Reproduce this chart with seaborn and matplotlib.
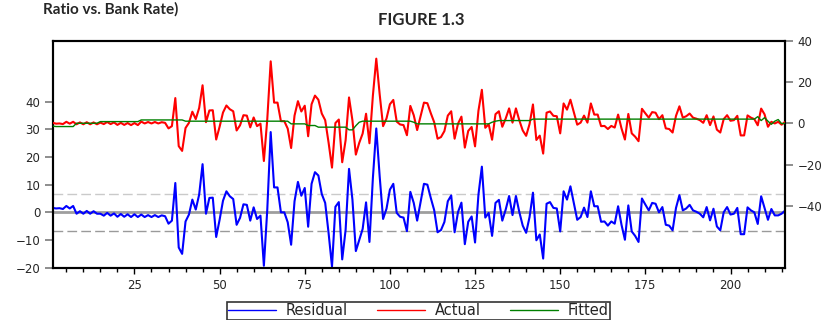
import matplotlib
matplotlib.use("Agg")
import matplotlib.pyplot as plt
from matplotlib.ticker import MultipleLocator, FixedLocator
from matplotlib.lines import Line2D
import numpy as np
import pandas as pd
import seaborn as sns

# ---------------- data ----------------
obs = list(range(1, 217))

residual = [
    1.6, 1.4, 1.5, 1.2, 2.3, 1.4, 2.3,
    -0.5, 0.4, -0.5, 0.5, -0.5, 0.4, -0.5, -0.5, -1.2, -0.2, -1.2, -0.4, -1.6, -0.6,
    -1.6, -0.7, -1.7, -0.7, -1.7, -0.8, -1.7, -1.0, -1.7, -1.0, -1.7, -1.1, -1.4,
    -4.1, -3.0, 10.6, -12.7, -15.0, -3.3, -0.8, 4.6, 1.0, 6.4, 17.4, -0.5, 5.2, 5.3,
    -8.9, -2.7, 4.2, 7.6, 5.8, 4.8, -4.5, -2.0, 2.9, 2.7, -3.0, 1.8, -2.4, -1.2,
    -19.3, 1.0, 29.0, 9.0, 9.0, 0.0, 0.0, -3.6, -11.7, 4.0, 11.0,
    6.0, 8.8, -5.2, 10.3, 14.5, 13.3, 6.6, 3.4, -7.5, -19.6, 2.0, 3.7, -17.0, -6.3,
    15.7, 4.6, -14.0, -10.0, -6.0, 3.6, -10.7, 12.3, 30.3, 13.0, -2.4, 1.3, 8.2,
    10.3, -0.2, -1.6, -1.9, -6.8, 7.4, 3.4, -3.0, 3.7, 10.3, 10.0, 5.2, 0.8, -7.2,
    -6.4, -3.5, 4.0, 6.1, -7.2, 0.1, 3.5, -11.5, -3.4, -1.5, -10.9, 6.4, 16.5, -1.9,
    -0.2, -8.5, 3.4, 4.5, -3.0, 1.0, 5.9, -1.0, 5.9, 0.1, -4.8, -7.4, -1.7, 7.1,
    -10.1, -8.0, -16.7,
    3.1, 3.7, 1.6, 1.4, -6.9, 7.6, 4.6, 9.4, 3.4, -2.7, -1.7, 1.7, -1.7, 7.6, 2.2,
    2.2, -3.4, -3.3, -4.8, -3.3, -4.1, 2.2, -4.5, -9.9, 2.5, -6.9, -8.5, -10.7, 5.0,
    2.8, 0.7, 3.4, 3.1, 0.0, 1.9, -4.5, -4.8, -6.5, 1.6, 6.2, 0.7, 1.4, 2.7, 0.7,
    0.2, -0.5, -1.8, 1.9, -2.9, 1.3, -5.1, -6.5, 0.0, 1.9, -0.8, -0.5, 1.6, -7.9,
    -7.9, 1.8, 0.7, 0.0, -4.2, 5.8, 1.6, -2.7, 1.2, -1.1, -1.1, -0.5, 0.6,
]

fitted = [
    -1.4, -1.6, -1.6, -1.6, -1.6, -1.6, -1.6,
    0.0, 0.0, 0.0, 0.0, 0.0, 0.0, 0.0,
    0.8, 0.8, 0.8, 0.8, 0.8, 0.8, 0.8, 0.8, 0.8, 0.8, 0.8, 0.8,
    1.6, 1.6, 1.6, 1.6, 1.6, 1.6, 1.6, 1.6, 1.6, 1.6, 1.6, 1.6, 1.6,
    1.0, 1.0, 1.0, 1.0, 1.0, 1.0, 1.0, 1.0, 1.0, 1.0, 1.0, 1.0, 1.0, 1.0, 1.0, 1.0,
    1.0, 1.0, 1.0, 1.0, 1.0, 1.0, 1.0, 1.0, 1.0, 1.0, 1.0, 1.0, 1.0, 1.0, 1.0,
    -0.3, -0.3, -0.3, -0.3, -0.3,
    -1.1, -1.1, -1.1,
    -1.9, -1.9, -1.9, -1.9, -1.9, -1.9, -1.9, -1.9, -1.9,
    -3.2, -3.2,
    -1.2, 0.5,
    1.0, 1.0, 1.0, 1.0, 1.0, 1.0, 1.0, 1.0, 1.0, 1.0, 1.0, 1.0, 1.0, 1.0, 1.0,
    0.5,
    -0.3, -0.3, -0.3, -0.3, -0.3, -0.3, -0.3, -0.3, -0.3, -0.3, -0.3,
    -0.3, -0.3, -0.3, -0.3, -0.3, -0.3, -0.3, -0.3, -0.3, -0.3, -0.3,
    0.5, 1.0,
    1.3, 1.3, 1.3, 1.3, 1.3, 1.3, 1.3, 1.3, 1.3, 1.3,
    2.0, 2.0, 2.0, 2.0, 2.0, 2.0, 2.0, 2.0, 2.0, 2.0, 2.0, 2.0, 2.0, 2.0, 2.0, 2.0,
    2.0, 2.0, 2.0, 2.0, 2.0, 2.0, 2.0, 2.0, 2.0, 2.0, 2.0, 2.0, 2.0, 2.0, 2.0, 2.0,
    2.0, 2.0, 2.0, 2.0, 2.0, 2.0, 2.0, 2.0, 2.0, 2.0, 2.0, 2.0, 2.0, 2.0, 2.0, 2.0,
    2.0, 2.0, 2.0, 2.0, 2.0, 2.0, 2.0, 2.0, 2.0, 2.0, 2.0, 2.0, 2.0, 2.0, 2.0, 2.0,
    2.0, 2.0,
    3.2, 1.3, 2.7, 1.0, -0.5, 1.0, 1.8, -0.2, 0.0,
]

# actual = fitted + residual (the chart's definition)
actual = [f + r for f, r in zip(fitted, residual)]

se_band = 6.8
left_ticks = [-20, -10, 0, 10, 20, 30, 40]
right_ticks = [-40, -20, 0, 20, 40]
x_ticks = [25, 50, 75, 100, 125, 150, 175, 200]
series_names = ["Residual", "Actual", "Fitted"]
title_text = "FIGURE 1.3"
header_text = "Ratio vs. Bank Rate)"

n = min(len(obs), len(residual), len(fitted))
df = pd.DataFrame({
    "obs": obs[:n],
    "Residual": residual[:n],
    "Actual": actual[:n],
    "Fitted": fitted[:n],
})

# ---------------- style ----------------
sns.set_style("white")
plt.rcParams["font.family"] = ["DejaVu Sans"]

W, H = 830, 320
fig = plt.figure(figsize=(W / 100, H / 100), dpi=100)
x0, x1, y0, y1 = 52.7, 785.0, 40.7, 267.7
ax = fig.add_axes([x0 / W, 1 - y1 / H, (x1 - x0) / W, (y1 - y0) / H])
ax2 = ax.twinx()

c_res, c_act, c_fit = "#0000ff", "#ff0000", "#008000"

# reference lines for residual
ax.axhline(0, color="#9e9e9e", lw=2.0, zorder=1)
ax.axhline(se_band, color="#cacaca", lw=1.0, ls=(0, (7, 3)), zorder=1)
ax.axhline(-se_band, color="#9a9a9a", lw=1.0, ls=(0, (7, 3)), zorder=1)

sns.lineplot(data=df, x="obs", y="Residual", ax=ax, color=c_res, lw=1.5,
             legend=False, zorder=3)
sns.lineplot(data=df, x="obs", y="Actual", ax=ax2, color=c_act, lw=1.5,
             legend=False, zorder=3)
sns.lineplot(data=df, x="obs", y="Fitted", ax=ax2, color=c_fit, lw=1.0,
             legend=False, zorder=4)

ax.set_xlim(1, 216)
ax.set_ylim(-20, 62)
ax2.set_ylim(-70, 40)

ax.set_xlabel("")
ax.set_ylabel("")
ax2.set_ylabel("")

ax.xaxis.set_major_locator(FixedLocator(x_ticks))
ax.xaxis.set_minor_locator(MultipleLocator(5))
ax.yaxis.set_major_locator(FixedLocator(left_ticks))
ax2.yaxis.set_major_locator(FixedLocator(right_ticks))

for a in (ax, ax2):
    for s in a.spines.values():
        s.set_color("black")
        s.set_linewidth(1.5)

tick_font = 8.5
ax.tick_params(axis="y", which="major", direction="out", length=6, width=1.2,
               color="#7a7a7a", labelsize=tick_font, pad=3, left=True, right=False)
ax2.tick_params(axis="y", which="major", direction="out", length=6, width=1.2,
                color="#7a7a7a", labelsize=tick_font, pad=3, right=True, left=False)
ax.tick_params(axis="x", which="major", direction="out", length=4, width=1.0,
               color="black", labelsize=tick_font, pad=4, bottom=True, top=False)
ax.tick_params(axis="x", which="minor", direction="out", length=3, width=1.0,
               color="black", bottom=True, top=False)

# title and header (header moved just inside the canvas)
fig.text(421 / W, 1 - 20 / H, title_text, ha="center", va="center",
         fontsize=12, fontweight="bold", family=["Lato", "DejaVu Sans"])
fig.text(178 / W, 1 - 2 / H, header_text, ha="right", va="top",
         fontsize=11, fontweight="bold", family=["Lato", "DejaVu Sans"])

# legend
handles = [Line2D([], [], color=c, lw=1.0) for c in (c_res, c_act, c_fit)]
leg = fig.legend(handles, series_names, loc="center", ncol=3,
                 bbox_to_anchor=(418.5 / W, 1 - 310.8 / H),
                 frameon=True, fancybox=False, edgecolor="black",
                 fontsize=10.5, handlelength=3.3, handletextpad=0.65,
                 columnspacing=2.0, borderpad=0.12, borderaxespad=0)
leg.get_frame().set_linewidth(1.2)

fig.savefig("out.png", dpi=100)
